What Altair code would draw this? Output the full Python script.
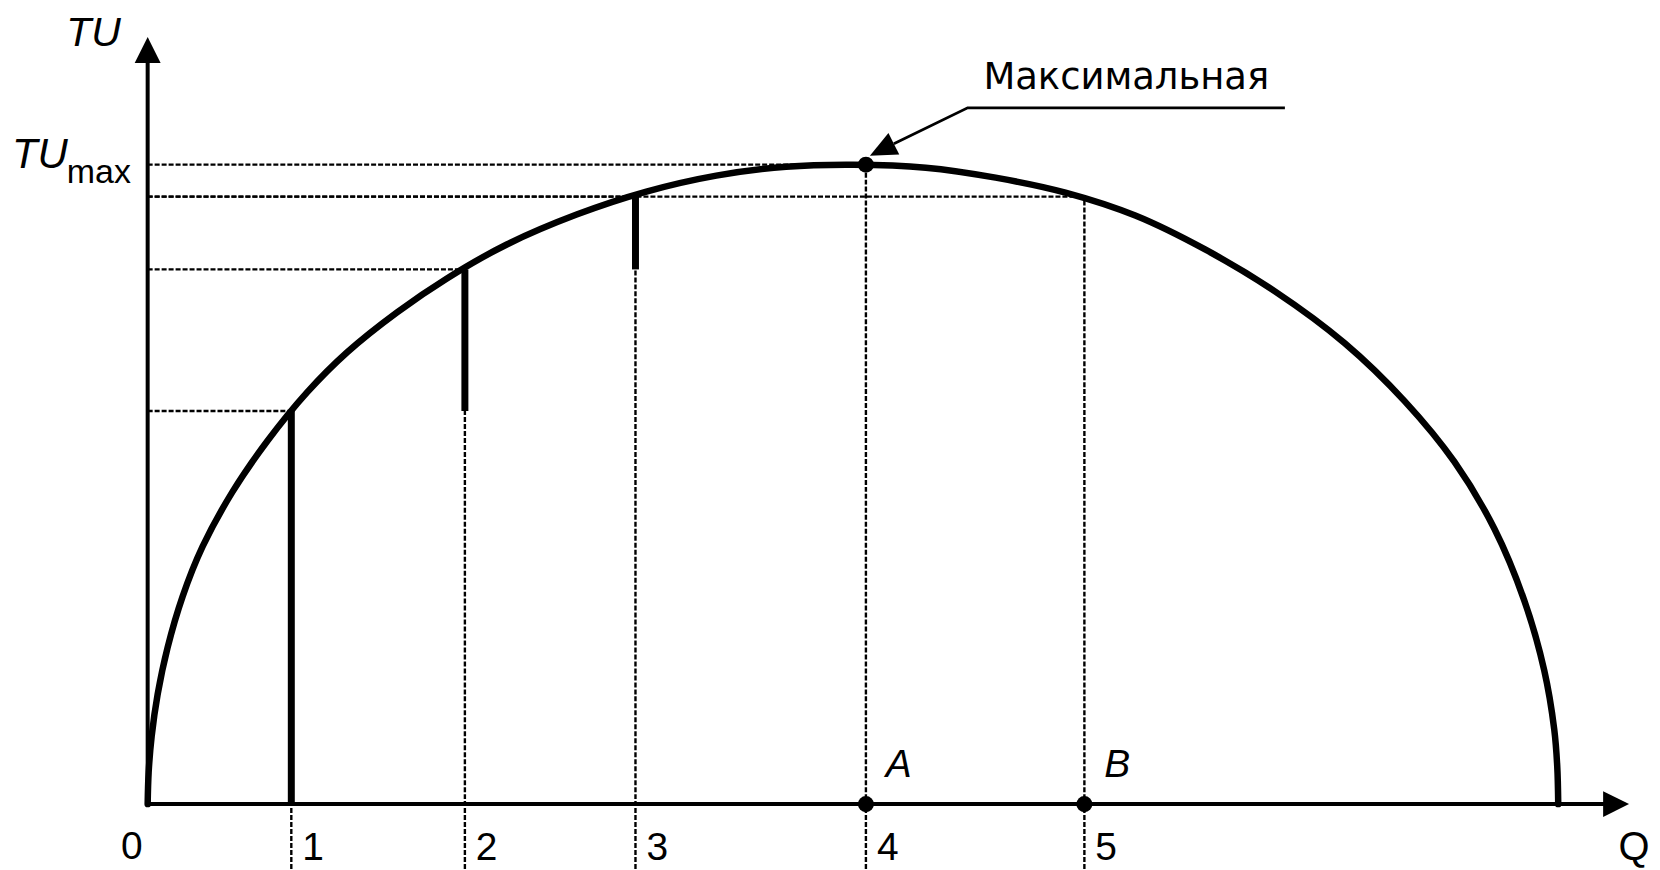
import math
import altair as alt
import pandas as pd

# ---- values (1 unit ~ 1 px of the original) ----
CURVE_Q = [0, 1, 4, 10, 20, 35, 55, 85, 120, 160, 200, 250, 300, 360, 430, 500, 570, 640, 707,
           780, 850, 920, 990, 1060, 1130, 1200, 1260, 1310, 1350, 1380, 1400, 1410, 1413, 1414]
CURVE_TU = [0, 32, 68, 110, 157, 208, 258, 313, 364, 413, 453, 493, 527, 561, 591, 614, 630, 639, 641,
            638, 628, 613, 590, 556, 514, 462, 404, 343, 276, 204, 134, 75, 38, 0]

TICK_LABELS = ["1", "2", "3", "4", "5"]
TICK_Q = [144, 318, 489, 720, 939]
TU_AT_TICK = [394, 536, 609, 641, 609]
MU_FROM = [0, 394, 536]            # marginal-utility steps for the first three units

POINT_LABELS = ["A", "B"]
POINT_Q = [720, 939]
TU_MAX = 641
Q_AT_MAX = 720

Y_AXIS_TOP = 769
X_AXIS_END = 1485
Q_MIN, Q_MAX = -140, 1508
TU_MIN, TU_TOP = -65, 797

ANNOT_TEXT = "Максимальная"
ANNOT_Q = [1140, 822, 748]
ANNOT_TU = [698, 698, 662]
ANNOT_TIP = [724, 650]

W, H = 1648, 862
INK = "#000000"

xs = alt.Scale(domain=[Q_MIN, Q_MAX], nice=False, zero=False)
ys = alt.Scale(domain=[TU_MIN, TU_TOP], nice=False, zero=False)


def X(f):
    return alt.X(f, type="quantitative", scale=xs, axis=None)


def Y(f):
    return alt.Y(f, type="quantitative", scale=ys, axis=None)


# dashed guides
h_df = pd.DataFrame({"y": TU_AT_TICK, "x0": [0] * len(TICK_Q), "x1": TICK_Q})
h_guides = alt.Chart(h_df).mark_rule(color=INK, strokeWidth=2.4, strokeDash=[5, 2]).encode(
    x=X("x0"), x2="x1", y=Y("y"))

v_tops = MU_FROM + TU_AT_TICK[len(MU_FROM):]
v_df = pd.DataFrame({"x": TICK_Q, "y0": [TU_MIN] * len(TICK_Q), "y1": v_tops})
v_guides = alt.Chart(v_df).mark_rule(color=INK, strokeWidth=2.4, strokeDash=[5, 2]).encode(
    x=X("x"), y=Y("y0"), y2="y1")

# marginal utility steps
b_df = pd.DataFrame({"x": TICK_Q[:len(MU_FROM)], "y0": MU_FROM, "y1": TU_AT_TICK[:len(MU_FROM)]})
mu_bars = alt.Chart(b_df).mark_rule(color=INK, strokeWidth=7, strokeCap="butt").encode(
    x=X("x"), y=Y("y0"), y2="y1")

# total utility curve
c_df = pd.DataFrame({"q": CURVE_Q, "tu": CURVE_TU, "i": list(range(len(CURVE_Q)))})
curve = alt.Chart(c_df).mark_line(color=INK, strokeWidth=6.5, interpolate="catmull-rom",
                                  strokeJoin="round", strokeCap="round").encode(
    x=X("q"), y=Y("tu"), order="i:Q")

# axes
HEAD = 26
ax_df = pd.DataFrame({"x0": [0], "x1": [X_AXIS_END - HEAD + 4], "y0": [0], "y1": [Y_AXIS_TOP - HEAD + 4]})
y_axis = alt.Chart(ax_df).mark_rule(color=INK, strokeWidth=4).encode(x=X("x0"), y=Y("y0"), y2="y1")
x_axis = alt.Chart(ax_df).mark_rule(color=INK, strokeWidth=4).encode(x=X("x0"), x2="x1", y=Y("y0"))

up_df = pd.DataFrame({"q": [0], "tu": [Y_AXIS_TOP - HEAD / 2]})
y_head = alt.Chart(up_df).mark_point(shape="M0,-1L1,1L-1,1Z", size=HEAD * HEAD, filled=True,
                                     color=INK, opacity=1, strokeWidth=0).encode(x=X("q"), y=Y("tu"))
rt_df = pd.DataFrame({"q": [X_AXIS_END - HEAD / 2], "tu": [0]})
x_head = alt.Chart(rt_df).mark_point(shape="M1,0L-1,1L-1,-1Z", size=HEAD * HEAD, filled=True,
                                     color=INK, opacity=1, strokeWidth=0).encode(x=X("q"), y=Y("tu"))

# dots
d_df = pd.DataFrame({"q": [Q_AT_MAX] + POINT_Q, "tu": [TU_MAX, 0, 0]})
dots = alt.Chart(d_df).mark_circle(size=260, color=INK, opacity=1).encode(x=X("q"), y=Y("tu"))

# annotation leader + arrowhead
a_df = pd.DataFrame({"q": ANNOT_Q, "tu": ANNOT_TU, "i": list(range(len(ANNOT_Q)))})
leader = alt.Chart(a_df).mark_line(color=INK, strokeWidth=2.8).encode(x=X("q"), y=Y("tu"), order="i:Q")

tq, ttu = ANNOT_TIP
dxs, dys = tq - ANNOT_Q[-1], -(ttu - ANNOT_TU[-1])   # screen direction base -> tip
L = math.hypot(dxs, dys)
ux, uy = dxs / L, dys / L
theta = math.degrees(math.atan2(ux, -uy)) % 360
ah_df = pd.DataFrame({"q": [tq - ux * L / 2], "tu": [ttu + uy * L / 2]})
a_head = alt.Chart(ah_df).mark_point(shape="M0,-1L0.9,1L-0.9,1Z", size=L * L, angle=theta,
                                     filled=True, color=INK, opacity=1, strokeWidth=0).encode(
    x=X("q"), y=Y("tu"))

# texts
FONT = "Liberation Sans"
annot_txt = alt.Chart(pd.DataFrame({"q": [(ANNOT_Q[0] + ANNOT_Q[1]) / 2], "tu": [ANNOT_TU[0]],
                                    "t": [ANNOT_TEXT]})).mark_text(
    font="DejaVu Sans", fontSize=37, color=INK, align="center", baseline="alphabetic", dy=-19).encode(
    x=X("q"), y=Y("tu"), text="t:N")

zero_txt = alt.Chart(pd.DataFrame({"q": [0], "tu": [0], "t": ["0"]})).mark_text(
    font=FONT, fontSize=39, color=INK, align="center", baseline="alphabetic", dx=-16, dy=55).encode(
    x=X("q"), y=Y("tu"), text="t:N")

tick_txt = alt.Chart(pd.DataFrame({"q": TICK_Q, "tu": [0] * len(TICK_Q), "t": TICK_LABELS})).mark_text(
    font=FONT, fontSize=39, color=INK, align="left", baseline="alphabetic", dx=11, dy=56).encode(
    x=X("q"), y=Y("tu"), text="t:N")

pt_txt = alt.Chart(pd.DataFrame({"q": POINT_Q, "tu": [0, 0], "t": POINT_LABELS})).mark_text(
    font=FONT, fontSize=39, fontStyle="italic", color=INK, align="left", baseline="alphabetic",
    dx=20, dy=-27).encode(x=X("q"), y=Y("tu"), text="t:N")

q_txt = alt.Chart(pd.DataFrame({"q": [X_AXIS_END], "tu": [0], "t": ["Q"]})).mark_text(
    font=FONT, fontSize=40, color=INK, align="center", baseline="alphabetic", dx=5, dy=56).encode(
    x=X("q"), y=Y("tu"), text="t:N")

tu_txt = alt.Chart(pd.DataFrame({"q": [0], "tu": [Y_AXIS_TOP], "t": ["TU"]})).mark_text(
    font=FONT, fontSize=41, fontStyle="italic", color=INK, align="right", baseline="alphabetic",
    dx=-27, dy=9).encode(x=X("q"), y=Y("tu"), text="t:N")

tumax_txt = alt.Chart(pd.DataFrame({"q": [0], "tu": [TU_MAX], "t": ["TU"]})).mark_text(
    font=FONT, fontSize=42, fontStyle="italic", color=INK, align="left", baseline="alphabetic",
    dx=-136, dy=3).encode(x=X("q"), y=Y("tu"), text="t:N")

max_txt = alt.Chart(pd.DataFrame({"q": [0], "tu": [TU_MAX], "t": ["max"]})).mark_text(
    font=FONT, fontSize=34, color=INK, align="left", baseline="alphabetic",
    dx=-81, dy=18).encode(x=X("q"), y=Y("tu"), text="t:N")

chart = alt.layer(
    h_guides, v_guides, mu_bars, curve, y_axis, x_axis, y_head, x_head, dots,
    leader, a_head, annot_txt, zero_txt, tick_txt, pt_txt, q_txt, tu_txt, tumax_txt, max_txt
).properties(
    width=W, height=H, padding=0, background="white",
    autosize=alt.AutoSizeParams(type="none"),
).configure_view(stroke=None)

chart.save("out.html", embed_options={"renderer": "svg", "actions": False})
